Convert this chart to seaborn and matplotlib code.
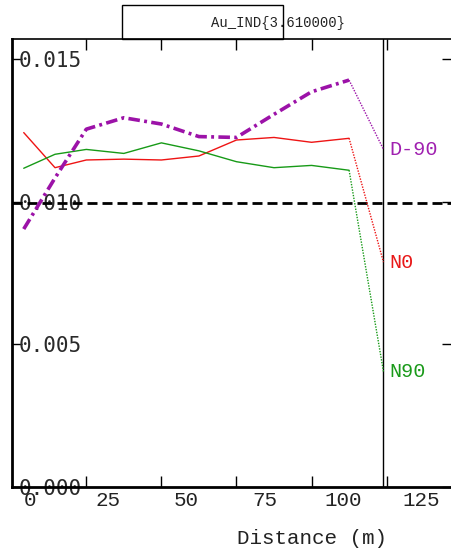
import matplotlib
matplotlib.use("Agg")
import matplotlib.pyplot as plt
from matplotlib.patches import Rectangle
import numpy as np
import pandas as pd
import seaborn as sns

# ---- data ----
distance = [-2, 8, 18, 30, 42, 54, 66, 78, 90, 102, 113]
n0 = [0.01242, 0.01119, 0.01146, 0.01149, 0.01146, 0.01160, 0.01216, 0.01225, 0.01208, 0.01222, 0.00788]
n90 = [0.01117, 0.01166, 0.01183, 0.01169, 0.01206, 0.01178, 0.01140, 0.01119, 0.01127, 0.01110, 0.00404]
d90 = [0.00904, 0.01083, 0.01254, 0.01294, 0.01272, 0.01228, 0.01225, 0.01306, 0.01385, 0.01426, 0.01183]
series_names = ["D-90", "N0", "N90"]
x_tick_values = [0, 25, 50, 75, 100, 125]
x_minor_ticks = [18, 42, 66, 90, 114]
y_tick_values = [0.000, 0.005, 0.010, 0.015]
threshold = 0.00995
end_distance = 113
title_text = "Au_IND{3.610000}"
x_label = "Distance (m)"

colors = {"D-90": "#9c12a8", "N0": "#ee1414", "N90": "#179a17"}
text_colors = {"D-90": "#a020b0", "N0": "#e81818", "N90": "#1a9a1a"}
widths = {"D-90": 2.6, "N0": 1.0, "N90": 1.0}
dash_styles = {"D-90": (0, (3.2, 1.2, 0.8, 1.2)), "N0": "-", "N90": "-"}

df = pd.concat([
    pd.DataFrame({"distance": distance, "value": vals, "series": name})
    for name, vals in zip(series_names, [d90, n0, n90])
], ignore_index=True)

sns.set_theme(style="white")
fig = plt.figure(figsize=(4.52, 5.5), dpi=100)
ax = fig.add_axes([12 / 452, 63 / 550, 440 / 452, 448 / 550])

ax.axhline(threshold, color="black", lw=2, dashes=(3.6, 1.8), zorder=1)
ax.axvline(end_distance, color="black", lw=1, zorder=1)

for name in ["N0", "N90", "D-90"]:
    sub = df[df["series"] == name].reset_index(drop=True)
    main = sub.iloc[:-1]
    tail = sub.iloc[-2:]
    sns.lineplot(data=main, x="distance", y="value", ax=ax, color=colors[name],
                 lw=widths[name], linestyle=dash_styles[name], legend=False,
                 estimator=None, sort=False, zorder=3)
    sns.lineplot(data=tail, x="distance", y="value", ax=ax, color=colors[name],
                 lw=1.0, linestyle=(0, (1, 1)), legend=False,
                 estimator=None, sort=False, zorder=3)
    ax.annotate(name, xy=(sub["distance"].iloc[-1], sub["value"].iloc[-1]),
                xytext=(4.5, 0), textcoords="offset points", va="center", ha="left",
                color=text_colors[name], fontsize=14.5, family="Liberation Mono")

ax.set_xlim(-5.75, 134.9)
ax.set_ylim(0.0, 0.0157)

ax.set_xticks(x_tick_values)
ax.set_xticklabels([str(v) for v in x_tick_values], family="Liberation Mono", fontsize=15)
ax.set_xticks(x_minor_ticks, minor=True)
ax.tick_params(axis="x", which="major", length=0, pad=3, colors="#222222")
ax.tick_params(axis="x", which="minor", direction="in", length=8, width=1,
               top=True, bottom=True, color="black")

ax.set_yticks(y_tick_values)
ax.set_yticklabels([f"{v:.3f}" for v in y_tick_values], family="DejaVu Sans Mono", fontsize=15)
ax.tick_params(axis="y", which="major", direction="in", length=7, width=1,
               left=True, right=True, pad=-5, labelcolor="#2a2a2a", color="black")
for lab in ax.get_yticklabels():
    lab.set_horizontalalignment("left")

ax.set_xlabel("")
ax.set_ylabel("")

for side in ["left", "bottom"]:
    ax.spines[side].set_linewidth(2)
    ax.spines[side].set_color("black")
ax.spines["top"].set_linewidth(1.2)
ax.spines["top"].set_color("black")
ax.spines["right"].set_visible(False)

fig.text(312 / 452, 1 - 538 / 550, x_label, ha="center", va="center",
         family="Liberation Mono", fontsize=15, color="#222222")

fig.add_artist(Rectangle((122 / 452, 1 - 39 / 550), (283 - 122) / 452, 34 / 550,
                         transform=fig.transFigure, fill=False, lw=1, ec="black"))
fig.text(211 / 452, 1 - 23 / 550, title_text, ha="left", va="center",
         family="Liberation Mono", fontsize=10, color="#222222")

fig.savefig("out.png", dpi=100)
